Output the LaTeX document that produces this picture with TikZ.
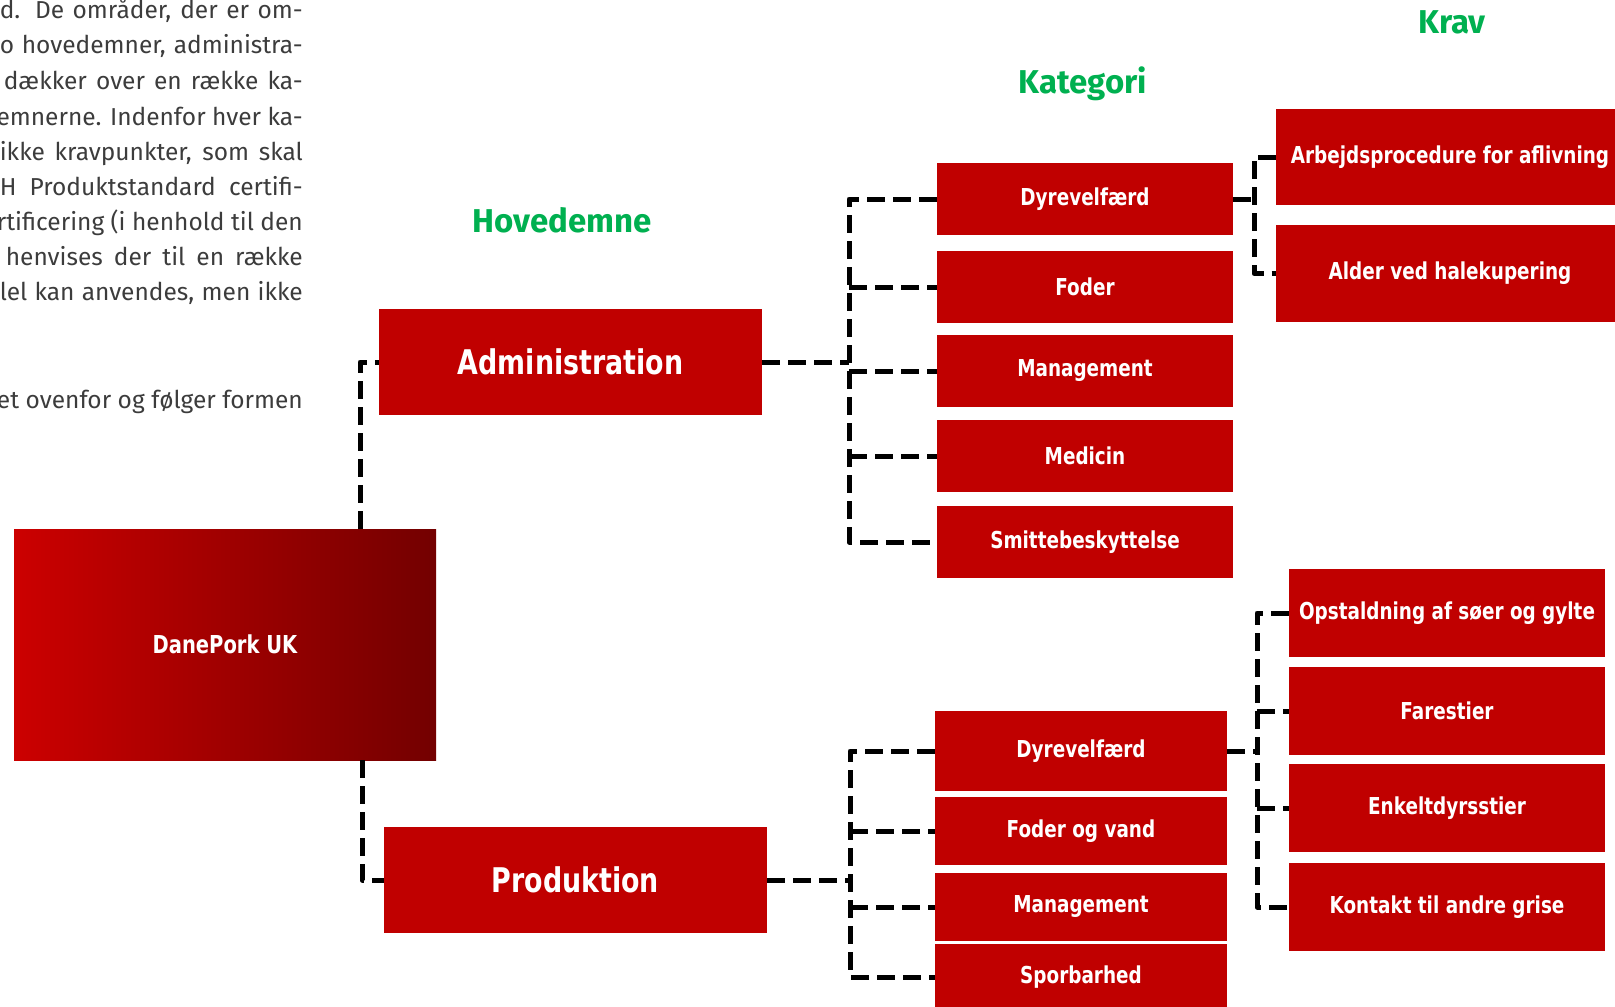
\documentclass[tikz,border=0pt]{standalone}
\usepackage{fontspec}
\setmainfont{Fira Sans}
\newfontfamily\boxfont{DejaVu Sans}[FakeStretch=0.79]
\newfontfamily\headfont{Fira Sans}
\newfontfamily\bodyfont{Fira Sans}
\definecolor{boxred}{HTML}{C00000}
\definecolor{dpleft}{HTML}{CC0000}
\definecolor{dpright}{HTML}{730000}
\definecolor{headgreen}{HTML}{00B050}
\definecolor{bodygray}{HTML}{3C3C3C}
\newcommand\jline[1]{\makebox[303pt][s]{#1}}
\begin{document}
\begin{tikzpicture}[x=1pt,y=-1pt,
  redbox/.style={fill=boxred, text=white, inner sep=0pt, align=center},
  catbox/.style={redbox, font=\boxfont\bfseries\fontsize{23.3}{28}\selectfont},
  mainbox/.style={redbox, font=\boxfont\bfseries\fontsize{34}{40}\selectfont, minimum width=383pt, minimum height=106pt},
  head/.style={anchor=base, inner sep=0pt, text=headgreen, font=\headfont\bfseries\fontsize{33}{40}\selectfont},
  body/.style={anchor=base east, inner sep=0pt, text=bodygray, font=\bodyfont\fontsize{24.5}{29}\selectfont},
  conn/.style={draw=black, line width=5pt, dash pattern=on 18pt off 8pt, line join=round}]
\useasboundingbox (0,0) rectangle (1615,1007);
\clip (0,0) rectangle (1615,1007);
% body text at left (justified lines, cut at the left edge)
\node[body] (t1) at (303,18) {\jline{d. De områder, der er om-}};
\node[body] (t2) at (303,53) {\jline{o hovedemner, administra-}};
\node[body] (t3) at (303,89) {\jline{\hspace{4pt}dækker over en række ka-}};
\node[body] (t4) at (303,125) {emnerne. Indenfor hver ka-};
\node[body] (t5) at (303,160) {\jline{ikke kravpunkter, som skal}};
\node[body] (t6) at (303,195) {\jline{H Produktstandard certifi-}};
\node[body] (t7) at (303,230) {rtificering (i henhold til den};
\node[body] (t8) at (303,265) {\jline{\hspace{6pt}henvises der til en række}};
\node[body] (t9) at (303,300) {\jline{lel kan anvendes, men ikke}};
\node[body] (t10) at (303,408) {et ovenfor og følger formen};
% headings
\node[head] (h1) at (562,232) {Hovedemne};
\node[head] (h2) at (1083,93) {Kategori};
\node[head] (h3) at (1452,33) {Krav};
% root
\node[redbox, left color=dpleft, right color=dpright, minimum width=422pt, minimum height=231pt,
      font=\boxfont\bfseries\fontsize{24.7}{30}\selectfont] (dp) at (225,644.5) {DanePork UK};
% main topics
\node[mainbox] (admin) at (570.5,362) {Administration};
\node[mainbox] (prod) at (575.5,880) {Produktion};
% admin categories
\node[catbox, minimum width=296pt, minimum height=72pt] (a1) at (1085,199) {Dyrevelfærd};
\node[catbox, minimum width=296pt, minimum height=72pt] (a2) at (1085,287) {Foder};
\node[catbox, minimum width=296pt, minimum height=72pt] (a3) at (1085,371) {Management};
\node[catbox, minimum width=296pt, minimum height=72pt] (a4) at (1085,456) {Medicin};
\node[catbox, minimum width=296pt, minimum height=72pt] (a5) at (1085,542) {Smittebeskyttelse};
% production categories
\node[catbox, minimum width=292pt, minimum height=80pt] (p1) at (1081,751) {Dyrevelfærd};
\node[catbox, minimum width=292pt, minimum height=68pt] (p2) at (1081,831) {Foder og vand};
\node[catbox, minimum width=292pt, minimum height=68pt] (p3) at (1081,907) {Management};
\node[catbox, minimum width=292pt, minimum height=66pt] (p4) at (1081,977) {Sporbarhed};
% admin requirements
\node[catbox, minimum width=348pt, minimum height=96pt] (k1) at (1450,157) {Arbejdsprocedure for aflivning};
\node[catbox, minimum width=348pt, minimum height=97pt] (k2) at (1450,273.5) {Alder ved halekupering};
% production requirements
\node[catbox, minimum width=316pt, minimum height=88pt] (q1) at (1447,613) {Opstaldning af søer og gylte};
\node[catbox, minimum width=316pt, minimum height=88pt] (q2) at (1447,711) {Farestier};
\node[catbox, minimum width=316pt, minimum height=88pt] (q3) at (1447,808) {Enkeltdyrsstier};
\node[catbox, minimum width=316pt, minimum height=88pt] (q4) at (1447,907) {Kontakt til andre grise};
% junction x positions
\coordinate (ja) at (360,0);
\coordinate (jp) at (362,0);
\coordinate (ta) at (849,0);
\coordinate (tp) at (850,0);
\coordinate (tk) at (1254,0);
\coordinate (tq) at (1257,0);
% root to main topics
\draw[conn] (dp.north -| ja) |- (admin.west);
\draw[conn] (dp.south -| jp) |- (prod.west);
% admin tree
\draw[conn] (admin.east) -- (admin.east -| ta);
\draw[conn] (a1.west) -| (a5.west -| ta) -- (a5.west);
\foreach \n in {a2,a3,a4} \draw[conn] (\n.west -| ta) -- (\n.west);
% production tree
\draw[conn] (prod.east) -- (prod.east -| tp);
\draw[conn] (p1.west) -| (p4.west -| tp) -- (p4.west);
\foreach \n in {p2,p3} \draw[conn] (\n.west -| tp) -- (\n.west);
% admin requirements tree
\draw[conn] (a1.east) -- (a1.east -| tk);
\draw[conn] (k1.west) -| (k2.west -| tk) -- (k2.west);
% production requirements tree
\draw[conn] (p1.east) -- (p1.east -| tq);
\draw[conn] (q1.west) -| (q4.west -| tq) -- (q4.west);
\foreach \n in {q2,q3} \draw[conn] (\n.west -| tq) -- (\n.west);
\end{tikzpicture}
\end{document}
